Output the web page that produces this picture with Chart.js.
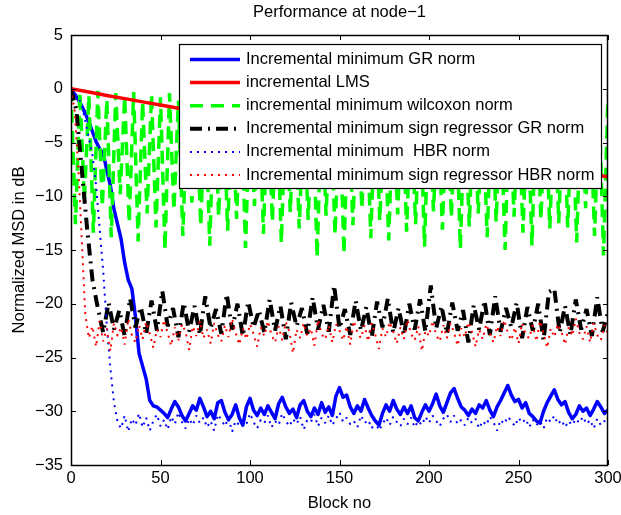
<!DOCTYPE html>
<html>
<head>
<meta charset="utf-8">
<style>
  html, body { margin: 0; padding: 0; background: #fff; }
  canvas { display: block; }
</style>
<script src="https://cdn.jsdelivr.net/npm/chart.js@4/dist/chart.umd.min.js"></script>
</head>
<body>
<canvas id="msd" width="621" height="515"></canvas>
<script>
// Normalized MSD (dB) versus block number at node 1.

const chartTitle = 'Performance at node\u22121';
const xLabel = 'Block no';
const yLabel = 'Normalized MSD in dB';
const xTickValues = [0, 50, 100, 150, 200, 250, 300];
const yTickValues = [5, 0, -5, -10, -15, -20, -25, -30, -35];

const seriesNames = [
  'Incremental minimum GR norm',
  'incremental LMS',
  'incremental minimum wilcoxon norm',
  'Incremental minimum sign regressor GR norm',
  'Incremental minimum  HBR norm',
  'Incremental minimum sign regressor HBR norm'
];

// Block spacing of each recorded series
const fineStep = 2;       // GR, HBR, sign HBR
const signGRStep = 3;     // sign GR
const lmsStep = 10;       // LMS
const wilcoxonStep = 2.5; // wilcoxon

const grNorm = [
  0, -0.5, -1.0, -1.6, -2.3, -3.1, -4.0, -4.9, -5.6, -6.0, -7.6, -9.0, -11.2, -12.6, -14.0, -16.2,
  -17.8, -18.6, -21.2, -24.6, -25.8, -27.0, -29.0, -29.5, -29.6, -29.9,
  -30.2, -30.6, -29.8, -29.1, -29.6, -30.4, -30.9, -30.2, -29.5, -29.9, -28.8, -29.6, -30.5, -30.0,
  -30.7, -29.2, -29.0, -30.1, -30.8, -30.3, -29.4, -30.6, -31.3, -29.6, -28.8, -29.9, -30.4, -29.7,
  -30.3, -29.5, -30.1, -30.7, -29.3, -28.7, -29.6, -30.2, -29.8, -30.6, -29.4, -29.0, -30.0, -30.5,
  -29.7, -30.3, -29.2, -30.1, -29.6, -30.4, -28.6, -27.8, -28.7, -28.5, -29.6, -30.2, -29.5, -30.0,
  -28.9, -29.7, -30.4, -30.9, -31.3, -30.2, -29.4, -30.0, -29.0, -29.8, -30.3, -29.6, -30.2, -29.5,
  -30.6, -30.9, -30.1, -29.4, -30.0, -29.3, -28.4, -29.5, -30.1, -29.2, -28.3, -27.9, -28.8, -29.6,
  -29.9, -30.4, -29.8, -30.2, -29.4, -29.7, -29.0, -29.9, -30.5, -29.6, -29.0, -28.3, -27.6, -28.5,
  -29.1, -28.9, -29.7, -29.2, -30.2, -30.5, -30.9, -31.1, -30.0, -29.2, -28.6, -28.0, -28.9, -29.4,
  -29.1, -30.1, -30.7, -30.3, -29.5, -30.0, -29.7, -30.4, -29.8, -29.1, -29.6, -30.2, -29.9
];

const lms = [
  0, -0.31, -0.62, -0.92, -1.22, -1.52, -1.82, -2.12, -2.41, -2.7, -2.98, -3.27, -3.55, -3.83, -4.1,
  -4.38, -4.65, -4.92, -5.18, -5.45, -5.71, -5.97, -6.22, -6.48, -6.73, -6.97, -7.22, -7.46, -7.7,
  -7.94, -8.18
];

const wilcoxon = [
  0, -12.6, -0.3, -10.4, -0.6, -13.4, -0.2, -11.0, -1.0, -13.8, -0.4, -9.8, -0.7, -12.5, -0.3,
  -14.2, -1.2, -11.6, -0.5, -12.9, -0.8, -15.0, -0.4, -11.3, -1.1,
  -13.7, -0.6, -10.6, -1.4, -12.8, -0.7, -14.6, -1.0, -11.9, -0.5, -13.2, -1.6, -12.1, -0.8,
  -14.8, -1.2, -10.9, -0.6, -13.5, -1.5, -12.4, -0.9, -14.4, -1.3, -11.5, -0.7, -13.0, -1.8,
  -12.2, -0.9, -15.7, -1.4, -11.8, -0.8, -13.6, -1.7, -15.4, -1.0, -12.7, -0.6, -11.2, -1.5,
  -13.9, -0.9, -12.3, -1.9, -14.1, -1.1, -11.7, -0.7, -13.3, -1.6, -12.6, -1.0, -14.7, -0.8,
  -11.4, -1.8, -13.1, -1.2, -12.0, -0.7, -14.9, -1.5, -12.8, -1.0, -11.6, -1.9, -13.8, -0.9,
  -12.4, -1.4, -15.0, -0.8, -11.9, -1.7, -13.4, -1.1, -14.6, -0.6, -12.2, -1.6, -13.0, -1.0,
  -12.5, -0.5, -12.9, -1.3, -14.3, -0.8, -11.1, -1.6, -13.7, -0.9, -15.5, -0.6
];

const signGR = [
  0, -2.0, -7.5, -13.0, -17.8, -20.4,
  -22.7, -19.9, -22.4, -20.6, -23.0, -19.5, -22.2, -20.3, -22.8, -19.7,
  -22.5, -18.8, -22.1, -20.4, -23.1, -19.9, -22.6, -20.2, -22.9, -19.3,
  -22.3, -20.5, -22.8, -19.1, -22.4, -20.0, -23.0, -19.8, -22.2, -20.6,
  -22.7, -19.6, -22.5, -20.2, -23.3, -19.9, -22.1, -20.4, -22.8, -19.4,
  -22.4, -20.1, -22.6, -18.3, -22.3, -20.5, -22.9, -19.7, -22.5, -20.3,
  -23.1, -19.8, -22.2, -19.5, -22.7, -20.4, -22.9, -20.0, -22.4, -19.6,
  -22.6, -18.3, -22.3, -20.2, -22.8, -19.9, -22.5, -20.6, -23.6, -20.1,
  -22.4, -19.7, -22.9, -19.3, -22.6, -20.4, -22.2, -19.9, -23.2, -20.3,
  -22.5, -20.0, -23.4, -18.9, -18.6, -22.7, -20.2, -22.9, -19.6, -22.4,
  -20.5, -23.0, -19.4, -22.6, -20.8
];

const hbrNorm = [
  0, -0.4, -0.8, -1.5, -3.0, -4.6, -6.2, -9.0, -13.0, -17.0, -22.0, -26.0, -29.2, -31.0,
  -31.6, -30.4, -31.9, -30.7, -31.3, -30.2, -31.5, -30.6, -31.8, -30.9, -30.3, -31.4, -30.8, -31.7,
  -30.5, -31.2, -30.1, -31.0, -31.6, -30.7, -31.3, -30.4, -31.1, -30.6, -31.5, -30.9, -31.8, -30.3,
  -30.8, -31.4, -30.6, -31.9, -30.9, -31.3, -30.5, -31.2, -30.2, -31.0, -31.6, -30.8, -31.1, -30.4,
  -31.5, -30.9, -31.3, -30.2, -30.9, -31.4, -30.7, -31.2, -30.5, -31.7, -30.8, -31.0, -30.3, -31.4,
  -30.6, -31.1, -30.4, -31.3, -30.7, -30.1, -31.0, -30.6, -31.2, -30.9, -31.5, -30.4, -31.1, -30.8,
  -31.6, -30.9, -31.8, -31.2, -30.6, -31.3, -30.5, -31.0, -31.4, -30.7, -31.2, -30.6, -31.5, -30.9,
  -31.3, -30.5, -31.1, -30.4, -30.9, -31.4, -30.7, -30.3, -31.0, -30.4, -31.2, -30.8, -31.3, -30.6,
  -31.1, -30.7, -31.6, -30.9, -31.3, -30.5, -31.0, -31.8, -30.8, -31.2, -30.5, -30.9, -31.4, -30.6,
  -31.1, -30.7, -31.5, -30.8, -31.3, -30.9, -31.6, -30.6, -31.0, -30.4, -31.2, -30.8, -31.5, -30.9,
  -31.3, -30.7, -31.1, -30.5, -31.2, -30.8, -31.6, -30.7, -31.3, -30.9, -31.4
];

const signHBR = [
  0, -2.0, -7.0, -14.0, -21.0, -23.2,
  -22.1, -24.0, -21.6, -23.5, -22.3, -24.4, -21.8, -23.0, -22.2, -23.8, -21.4, -22.9, -23.6, -22.0,
  -23.3, -21.7, -22.8, -24.1, -22.4, -23.1, -21.5, -22.7, -23.9, -22.2, -23.4, -21.9, -22.6, -24.3,
  -22.1, -23.0, -21.6, -23.2, -22.4, -23.7, -21.8, -22.9, -23.5, -22.0, -23.1, -21.4, -22.7, -23.8,
  -22.3, -23.3, -21.9, -22.8, -24.0, -22.2, -23.0, -21.6, -22.9, -23.6, -22.1, -23.4, -21.7, -22.6,
  -24.6, -22.4, -23.2, -21.8, -23.0, -22.3, -23.9, -21.5, -22.8, -23.3, -22.0, -23.6, -21.9, -22.5,
  -23.4, -22.1, -23.8, -21.6, -22.7, -23.2, -22.0, -23.5, -21.8, -22.9, -24.2, -22.3, -23.1, -21.7,
  -22.6, -23.7, -22.2, -23.3, -21.5, -22.8, -23.4, -22.1, -24.4, -22.5, -23.0, -21.6, -22.9, -23.5,
  -22.0, -23.2, -21.8, -22.7, -23.9, -22.3, -23.1, -21.7, -22.6, -24.0, -22.4, -23.3, -21.9, -22.8,
  -23.6, -22.1, -23.0, -21.5, -22.7, -23.4, -22.2, -23.7, -21.8, -22.9, -23.2, -22.0, -23.5, -21.6,
  -22.8, -24.1, -22.3, -23.1, -21.9, -22.6, -23.8, -22.2, -23.0, -21.4, -22.7, -23.3, -22.1, -23.6,
  -21.8, -22.9, -23.4, -22.0, -22.8
];

// Pair each value with its block number
function toPoints(values, step) {
  return values.map((v, i) => ({ x: i * step, y: v }));
}

const FONT = '"Liberation Sans", Arial, Helvetica, sans-serif';
const FONT_SIZE = 16.5;

// Inward tick marks on all four sides plus the axes box
const frameTicks = {
  id: 'frameTicks',
  afterDatasetsDraw(chart) {
    const { ctx, chartArea: a, scales: { x, y } } = chart;
    const len = 5;
    ctx.save();
    ctx.strokeStyle = '#000';
    ctx.lineWidth = 1;
    ctx.beginPath();
    x.ticks.forEach(t => {
      const px = Math.round(x.getPixelForValue(t.value)) + 0.5;
      ctx.moveTo(px, a.bottom); ctx.lineTo(px, a.bottom - len);
      ctx.moveTo(px, a.top); ctx.lineTo(px, a.top + len);
    });
    y.ticks.forEach(t => {
      const py = Math.round(y.getPixelForValue(t.value)) + 0.5;
      ctx.moveTo(a.left, py); ctx.lineTo(a.left + len, py);
      ctx.moveTo(a.right, py); ctx.lineTo(a.right - len, py);
    });
    ctx.stroke();
    ctx.lineWidth = 1.5;
    ctx.strokeRect(Math.round(a.left) + 0.5, Math.round(a.top) + 0.5,
                   Math.round(a.right - a.left) - 1, Math.round(a.bottom - a.top));
    ctx.restore();
  }
};

// Boxed legend in the upper right of the plot
const boxLegend = {
  id: 'boxLegend',
  afterDraw(chart) {
    const { ctx } = chart;
    const box = { left: 179, top: 44, right: 601, bottom: 188 };
    const rowTop = 59.5, rowGap = 23.1;
    const sampleFrom = 190, sampleTo = 240, textX = 246;
    ctx.save();
    ctx.fillStyle = '#fff';
    ctx.fillRect(box.left, box.top, box.right - box.left, box.bottom - box.top);
    ctx.strokeStyle = '#000';
    ctx.lineWidth = 1.2;
    ctx.strokeRect(box.left + 0.5, box.top + 0.5, box.right - box.left, box.bottom - box.top);
    ctx.font = FONT_SIZE + 'px ' + FONT;
    ctx.textBaseline = 'middle';
    ctx.textAlign = 'left';
    chart.data.datasets.forEach((ds, i) => {
      const yy = rowTop + i * rowGap;
      ctx.save();
      ctx.strokeStyle = ds.borderColor;
      ctx.lineWidth = ds.borderWidth;
      ctx.lineCap = 'butt';
      ctx.setLineDash(ds.borderDash || []);
      ctx.beginPath();
      ctx.moveTo(sampleFrom, yy);
      ctx.lineTo(sampleTo, yy);
      ctx.stroke();
      ctx.restore();
      ctx.fillStyle = '#000';
      ctx.fillText(ds.label, textX, yy);
    });
    ctx.restore();
  }
};

const minusSign = v => (v < 0 ? '\u2212' + Math.abs(v) : String(v));

Chart.defaults.color = '#000';
Chart.defaults.font.family = FONT;
Chart.defaults.font.size = FONT_SIZE;

new Chart(document.getElementById('msd'), {
  type: 'line',
  data: {
    datasets: [
      {
        label: seriesNames[0], data: toPoints(grNorm, fineStep),
        borderColor: '#0000ff', borderWidth: 3.5, borderJoinStyle: 'round', order: 6
      },
      {
        label: seriesNames[1], data: toPoints(lms, lmsStep),
        borderColor: '#ff0000', borderWidth: 3.5, order: 0
      },
      {
        label: seriesNames[2], data: toPoints(wilcoxon, wilcoxonStep),
        borderColor: '#00ff00', borderWidth: 3.5, borderDash: [13, 8], borderJoinStyle: 'bevel', order: 4
      },
      {
        label: seriesNames[3], data: toPoints(signGR, signGRStep),
        borderColor: '#000000', borderWidth: 4, borderDash: [12, 6, 2, 6], borderJoinStyle: 'bevel', order: 3
      },
      {
        label: seriesNames[4], data: toPoints(hbrNorm, fineStep),
        borderColor: '#0000ff', borderWidth: 2, borderDash: [2, 5], borderJoinStyle: 'bevel', order: 2
      },
      {
        label: seriesNames[5], data: toPoints(signHBR, fineStep),
        borderColor: '#ff0000', borderWidth: 2, borderDash: [2, 5], borderJoinStyle: 'bevel', order: 1
      }
    ]
  },
  options: {
    responsive: false,
    animation: false,
    events: [],
    layout: { padding: { left: 0, right: 13, top: 0, bottom: 0 } },
    elements: { point: { radius: 0 }, line: { tension: 0, fill: false } },
    plugins: {
      legend: { display: false },
      tooltip: { enabled: false },
      title: {
        display: true,
        text: chartTitle,
        fullSize: false,
        color: '#000',
        font: { family: FONT, size: FONT_SIZE, weight: 'normal' },
        padding: { top: 3, bottom: 12.2 }
      }
    },
    scales: {
      x: {
        type: 'linear',
        min: 0, max: 300,
        afterBuildTicks: s => { s.ticks = xTickValues.map(v => ({ value: v })); },
        ticks: { padding: 4, maxRotation: 0, autoSkip: false, color: '#000' },
        grid: { display: false, drawTicks: false },
        border: { display: false },
        title: { display: true, text: xLabel, color: '#000', padding: { top: 0, bottom: 2 } },
        afterFit: s => { s.height = 50; s.paddingLeft = 0; s.paddingRight = 0; }
      },
      y: {
        type: 'linear',
        min: -35, max: 5,
        afterBuildTicks: s => { s.ticks = yTickValues.map(v => ({ value: v })); },
        ticks: { padding: 8, autoSkip: false, color: '#000', callback: minusSign },
        grid: { display: false, drawTicks: false },
        border: { display: false },
        title: { display: true, text: yLabel, color: '#000', padding: { top: 10, bottom: 0 } },
        afterFit: s => { s.width = 71; s.paddingTop = 0; s.paddingBottom = 0; }
      }
    }
  },
  plugins: [frameTicks, boxLegend]
});
</script>
</body>
</html>
